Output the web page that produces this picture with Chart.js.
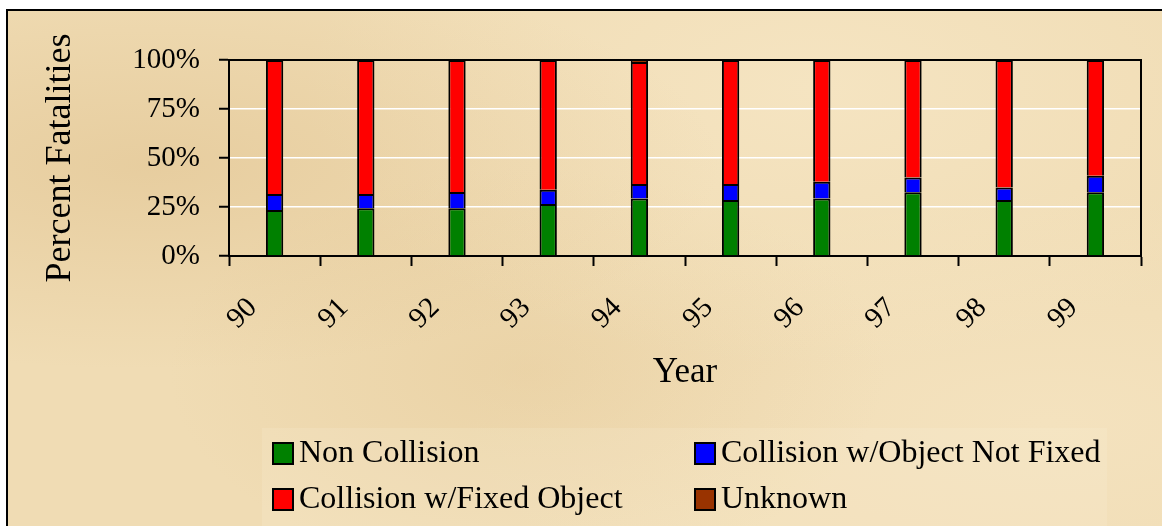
<!DOCTYPE html>
<html>
<head>
<meta charset="utf-8">
<script src="https://cdn.jsdelivr.net/npm/chart.js@4.4.1/dist/chart.umd.min.js"></script>
<style>
    html, body { margin: 0; padding: 0; background: #fff; }
    #wrap {
        position: absolute;
        left: 6px; top: 9px; right: 0; bottom: 0;
        border-left: 2px solid #000;
        border-top: 2px solid #000;
        background-color: #f0dcb4;
        background-image:
            radial-gradient(ellipse at 12% 30%, rgba(214, 178, 120, 0.35), transparent 40%),
            radial-gradient(ellipse at 70% 15%, rgba(250, 236, 206, 0.5), transparent 45%),
            radial-gradient(ellipse at 45% 70%, rgba(222, 190, 135, 0.3), transparent 40%),
            radial-gradient(ellipse at 90% 80%, rgba(248, 232, 200, 0.5), transparent 40%);
    }
    #chart { display: block; }
</style>
</head>
<body>
<div id="wrap"><canvas id="chart"></canvas></div>
<script>
// Data (percent of fatalities per year)
const years = ['90', '91', '92', '93', '94', '95', '96', '97', '98', '99'];
const nonCollision = [23.5, 24.3, 24.3, 26.5, 29.4, 28.6, 29.4, 32.5, 28.6, 32.5];
const notFixed = [8.1, 7.3, 8.4, 7.3, 7.3, 8.1, 8.5, 7.6, 6.3, 8.5];
const fixedObject = [68.4, 68.4, 67.3, 66.2, 62.3, 63.3, 62.1, 59.9, 65.1, 59.0];
const unknown = [0, 0, 0, 0, 1.0, 0, 0, 0, 0, 0];
const yTicks = [0, 25, 50, 75, 100];

Chart.defaults.font.family = '"Liberation Serif", "Times New Roman", serif';
Chart.defaults.color = '#000';

// Black frame round the plot area
const plotBox = {
    id: 'plotBox',
    beforeDatasetsDraw(chart) {
        const { ctx, chartArea: a } = chart;
        ctx.save();
        ctx.strokeStyle = '#000';
        ctx.lineWidth = 2;
        ctx.strokeRect(a.left, a.top, a.right - a.left, a.bottom - a.top);
        ctx.restore();
    }
};

// Two-column legend like the original
const gridLegend = {
    id: 'gridLegend',
    afterDraw(chart) {
        const ctx = chart.ctx;
        const sets = chart.data.datasets;
        const cols = [265, 687];
        const rows = [432, 478];
        ctx.save();
        ctx.fillStyle = 'rgba(255, 248, 230, 0.15)';
        ctx.fillRect(254, 417, 845, 110);
        ctx.font = '32px "Liberation Serif"';
        ctx.textBaseline = 'middle';
        sets.forEach((ds, i) => {
            const x = cols[i % 2];
            const y = rows[Math.floor(i / 2)];
            ctx.fillStyle = ds.backgroundColor;
            ctx.fillRect(x, y, 20, 21);
            ctx.strokeStyle = '#000';
            ctx.lineWidth = 2;
            ctx.strokeRect(x, y, 20, 21);
            ctx.fillStyle = '#000';
            ctx.fillText(ds.label, x + 26, y + 11);
        });
        ctx.restore();
    }
};

function series(label, data, color) {
    return {
        label: label,
        data: data,
        backgroundColor: color,
        borderColor: '#000',
        borderWidth: 2,
        categoryPercentage: 1,
        barPercentage: 0.19
    };
}

new Chart(document.getElementById('chart'), {
    type: 'bar',
    data: {
        labels: years,
        datasets: [
            series('Non Collision', nonCollision, '#008000'),
            series('Collision w/Object Not Fixed', notFixed, '#0000ff'),
            series('Collision w/Fixed Object', fixedObject, '#ff0000'),
            series('Unknown', unknown, '#993300')
        ]
    },
    options: {
        responsive: true,
        maintainAspectRatio: false,
        animation: false,
        layout: {
            padding: { left: 0, top: 49, right: 21, bottom: 132 }
        },
        scales: {
            x: {
                stacked: true,
                afterFit: (scale) => { scale.height = 138; },
                grid: {
                    drawOnChartArea: false,
                    tickColor: '#000',
                    tickLength: 10,
                    tickWidth: 2
                },
                border: { color: '#000', width: 2 },
                ticks: {
                    minRotation: 45,
                    maxRotation: 45,
                    labelOffset: -22,
                    padding: 25,
                    font: { size: 29 }
                },
                title: {
                    display: true,
                    text: 'Year',
                    font: { size: 35 },
                    padding: 0
                }
            },
            y: {
                stacked: true,
                min: 0,
                max: 100,
                afterFit: (scale) => { scale.width = 221; },
                afterBuildTicks: (scale) => {
                    scale.ticks = yTicks.map(v => ({ value: v }));
                },
                grid: {
                    color: '#fff',
                    lineWidth: 1.5,
                    tickColor: '#000',
                    tickLength: 10,
                    tickWidth: 2
                },
                border: { color: '#000', width: 2 },
                ticks: {
                    padding: 19,
                    font: { size: 29 },
                    callback: function(value) {
                        return value + '%';
                    }
                },
                title: {
                    display: true,
                    text: 'Percent Fatalities',
                    font: { size: 36 },
                    padding: { top: 31, bottom: 0 }
                }
            }
        },
        plugins: {
            legend: { display: false },
            tooltip: { enabled: false }
        }
    },
    plugins: [plotBox, gridLegend]
});
</script>
</body>
</html>
